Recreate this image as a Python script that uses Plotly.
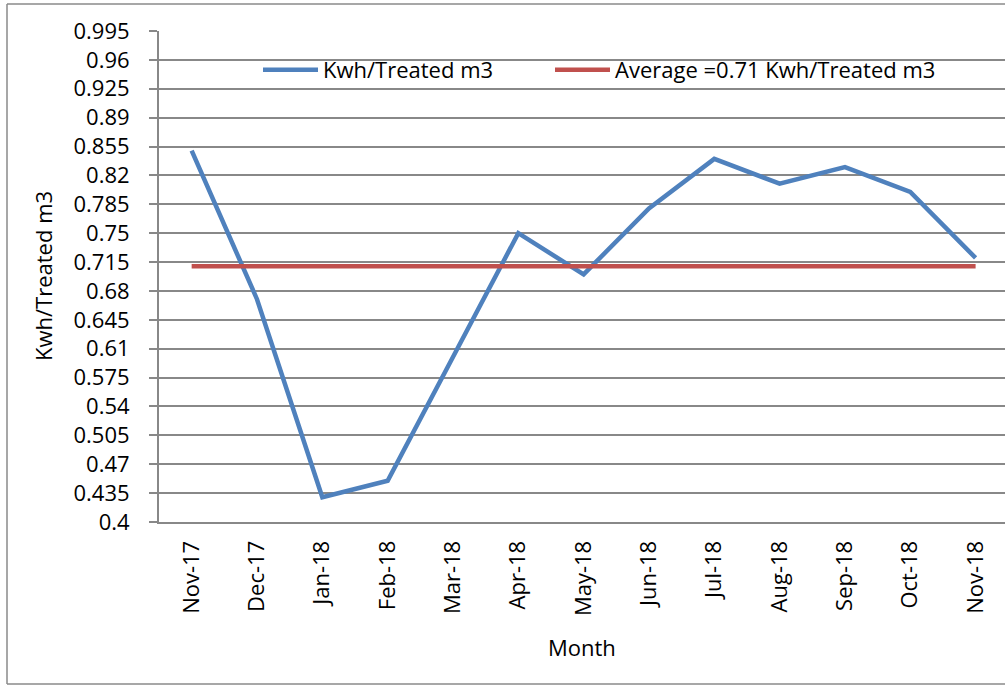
import plotly.graph_objects as go

months = ["Nov-17", "Dec-17", "Jan-18", "Feb-18", "Mar-18", "Apr-18", "May-18",
          "Jun-18", "Jul-18", "Aug-18", "Sep-18", "Oct-18", "Nov-18"]
kwh_per_m3 = [0.85, 0.67, 0.43, 0.45, 0.60, 0.75, 0.70, 0.78, 0.84, 0.81, 0.83, 0.80, 0.72]
average_val = [0.71] * len(months)
y_ticks = [0.4, 0.435, 0.47, 0.505, 0.54, 0.575, 0.61, 0.645, 0.68, 0.715, 0.75,
           0.785, 0.82, 0.855, 0.89, 0.925, 0.96, 0.995]
y_tick_text = ["0.4", "0.435", "0.47", "0.505", "0.54", "0.575", "0.61", "0.645", "0.68",
               "0.715", "0.75", "0.785", "0.82", "0.855", "0.89", "0.925", "0.96", "0.995"]

FONT = "Open Sans"
FS = 22
GRID = "#888888"

fig = go.Figure()
fig.add_trace(go.Scatter(x=months, y=kwh_per_m3, mode="lines", name="Kwh/Treated m3",
                         line=dict(color="#4F81BD", width=4.5), legend="legend"))
fig.add_trace(go.Scatter(x=months, y=average_val, mode="lines",
                         name="Average =0.71 Kwh/Treated m3",
                         line=dict(color="#C0504D", width=4.5), legend="legend2"))

W, H = 1005, 686
L, T, B = 159, 31, 164
pw = W - L
ph = H - T - B

def px_x(x):
    return (x - L) / pw

def px_y(y):
    return (H - B - y) / ph

leg_common = dict(orientation="h", yanchor="middle", xanchor="left",
                  bgcolor="rgba(0,0,0,0)", font=dict(size=FS, family=FONT),
                  itemwidth=55)

fig.update_layout(
    width=W, height=H,
    margin=dict(l=L, r=0, t=T, b=B),
    paper_bgcolor="white", plot_bgcolor="white",
    font=dict(family=FONT, size=FS, color="black"),
    showlegend=True,
    legend=dict(x=px_x(258), y=px_y(70), **leg_common),
    legend2=dict(x=px_x(550), y=px_y(70), **leg_common),
    xaxis=dict(type="category", categoryorder="array", categoryarray=months,
               range=[-0.5, 12.45], tickangle=-90, showgrid=False,
               showline=True, linecolor=GRID, linewidth=2, ticks="",
               ticklabelstandoff=8,
               tickfont=dict(size=FS, family=FONT), zeroline=False),
    yaxis=dict(range=[0.4, 0.995], tickvals=y_ticks, ticktext=y_tick_text,
               showgrid=True, gridcolor=GRID, gridwidth=1.5,
               showline=True, linecolor=GRID, linewidth=2,
               ticks="outside", ticklen=8, tickcolor=GRID, tickwidth=1.5,
               ticklabelstandoff=15,
               tickfont=dict(size=FS, family=FONT), zeroline=False),
    annotations=[
        dict(text="Kwh/Treated m3", xref="paper", yref="paper", x=px_x(43), y=px_y(276),
             textangle=-90, showarrow=False, font=dict(size=FS, family=FONT),
             xanchor="center", yanchor="middle"),
        dict(text="Month", xref="paper", yref="paper", x=px_x(582), y=px_y(647),
             showarrow=False, font=dict(size=FS, family=FONT),
             xanchor="center", yanchor="middle"),
    ],
    shapes=[
        dict(type="line", xref="paper", yref="paper", x0=px_x(7), x1=px_x(1010),
             y0=px_y(4), y1=px_y(4), line=dict(color="#8a8a8a", width=1.5)),
        dict(type="line", xref="paper", yref="paper", x0=px_x(7), x1=px_x(1010),
             y0=px_y(684), y1=px_y(684), line=dict(color="#8a8a8a", width=1.5)),
        dict(type="line", xref="paper", yref="paper", x0=px_x(7), x1=px_x(7),
             y0=px_y(4), y1=px_y(684), line=dict(color="#8a8a8a", width=1.5)),
    ],
)

fig.write_html("out.html", config={"displayModeBar": False},
               post_script="document.body.style.margin='0';document.body.style.overflow='hidden';")
